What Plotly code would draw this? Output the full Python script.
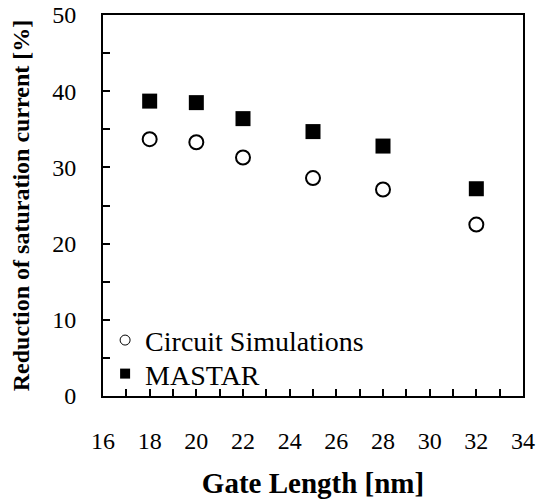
import plotly.graph_objects as go

gate_length = [18, 20, 22, 25, 28, 32]
circuit_sim = [33.7, 33.3, 31.3, 28.6, 27.1, 22.5]
mastar = [38.7, 38.5, 36.4, 34.7, 32.8, 27.2]
x_tick_vals = [16, 18, 20, 22, 24, 26, 28, 30, 32, 34]
y_tick_vals = [0, 10, 20, 30, 40, 50]
series_names = ["Circuit Simulations", "MASTAR"]

FONT = "Liberation Serif"

fig = go.Figure()
fig.add_trace(go.Scatter(
    x=gate_length, y=circuit_sim, mode="markers", name=series_names[0],
    showlegend=False,
    marker=dict(symbol="circle", size=14, color="white", line=dict(color="black", width=2)),
))
fig.add_trace(go.Scatter(
    x=gate_length, y=mastar, mode="markers", name=series_names[1],
    showlegend=False,
    marker=dict(symbol="square", size=15, color="black", line=dict(width=0)),
))
# legend entries (smaller symbols as in the reference)
fig.add_trace(go.Scatter(
    x=[None], y=[None], mode="markers", name=series_names[0], legend="legend",
    marker=dict(symbol="circle", size=10, color="white", line=dict(color="black", width=1)),
))
fig.add_trace(go.Scatter(
    x=[None], y=[None], mode="markers", name=series_names[1], legend="legend2",
    marker=dict(symbol="square", size=10, color="black", line=dict(width=0)),
))

legend_style = dict(
    x=0.005, xanchor="left", yanchor="middle",
    bgcolor="rgba(0,0,0,0)", font=dict(family=FONT, size=28),
    itemwidth=30, borderwidth=0,
)

fig.update_layout(
    width=536, height=502,
    margin=dict(l=103, r=13, t=15, b=106, autoexpand=False),
    paper_bgcolor="white", plot_bgcolor="white",
    font=dict(family=FONT, color="black", size=24),
    legend=dict(y=0.146, **legend_style),
    legend2=dict(y=0.058, **legend_style),
)
fig.update_xaxes(
    range=[16, 34], tickvals=x_tick_vals, ticks="inside", ticklen=7, tickwidth=1.5,
    tickcolor="black", showline=True, linecolor="black", linewidth=2, mirror=True,
    showgrid=False, zeroline=False, ticklabelstandoff=22, automargin=False,
    ticklabeloverflow="allow",
    tickfont=dict(family=FONT, size=24),
    minor=dict(dtick=1, ticks="inside", ticklen=7, tickwidth=1.5, tickcolor="black", showgrid=False),
    title=dict(text="<b>Gate Length [nm]</b>", font=dict(family=FONT, size=29), standoff=20),
)
fig.update_yaxes(
    range=[0, 50], tickvals=y_tick_vals, ticks="inside", ticklen=7, tickwidth=1.5,
    tickcolor="black", showline=True, linecolor="black", linewidth=2, mirror=True,
    showgrid=False, zeroline=False, ticklabelstandoff=20, automargin=False,
    tickfont=dict(family=FONT, size=24),
    minor=dict(dtick=5, ticks="inside", ticklen=7, tickwidth=1.5, tickcolor="black", showgrid=False),
    title=dict(text="<b>Reduction of saturation current [%]</b>", font=dict(family=FONT, size=24), standoff=16),
)

fig.write_html(
    "out.html",
    config={"displayModeBar": False},
    post_script="document.body.style.margin='0';",
)
